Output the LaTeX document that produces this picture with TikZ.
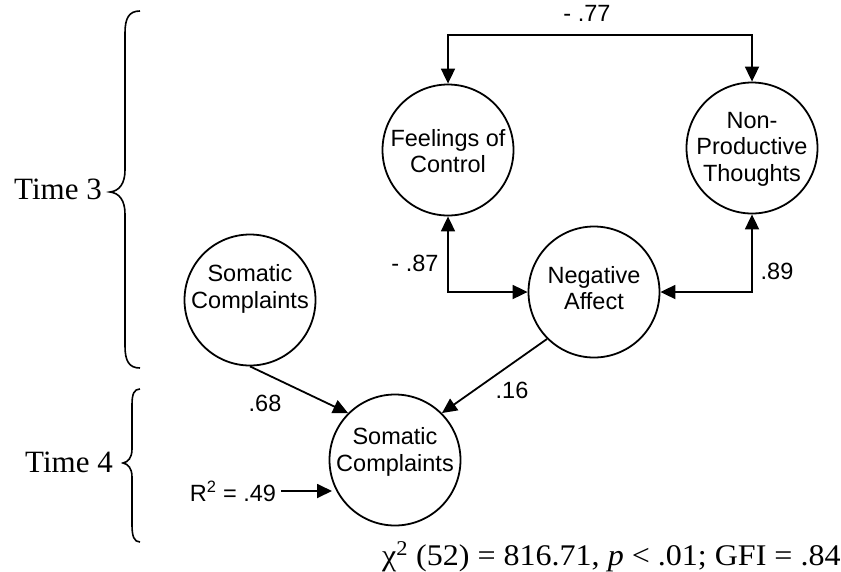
\documentclass[tikz,border=0pt]{standalone}
\usepackage{fontspec}
\usepackage{graphicx}
\setmainfont{Liberation Serif}
\newfontfamily\arialf{Liberation Sans}
\usetikzlibrary{arrows.meta}
\begin{document}
\begin{tikzpicture}[x=1pt,y=-1pt,
  lv/.style={circle,draw,line width=1.8pt,minimum size=131pt,inner sep=0pt},
  lvtext/.style={font=\arialf\fontsize{23.5}{26.5}\selectfont,align=center,inner sep=0pt},
  coef/.style={font=\arialf\fontsize{23.5}{26}\selectfont,inner sep=0pt},
  onepath/.style={line width=1.8pt,-{Triangle[length=15pt,width=14pt]}},
  twopath/.style={line width=1.8pt,{Triangle[length=15pt,width=14pt]}-{Triangle[length=15pt,width=14pt]}},
  bracepath/.style={line width=1.6pt},
  timelab/.style={font=\fontsize{31}{31}\selectfont,inner sep=0pt}]
\useasboundingbox (0,0) rectangle (841,571);

% latent variables
\node[lv] (fc) at (448,150) {};
\node[lvtext] (fct) at (448,151) {Feelings of\\Control};
\node[lv] (npt) at (752,148) {};
\node[lvtext] (nptt) at (752,149) {Non-\\Productive\\Thoughts};
\node[lv] (na) at (594,292) {};
\node[lvtext] (nat) at (594,288) {Negative\\Affect};
\node[lv] (sc3) at (250,300) {};
\node[lvtext] (sc3t) at (250,289) {Somatic\\Complaints};
\node[lv] (sc4) at (395,460) {};
\node[lvtext] (sc4t) at (395,452) {Somatic\\Complaints};

% connectors
\coordinate (topline) at (600,35);
\draw[twopath] (fc.north) |- (topline) -| (npt.north);
\draw[twopath] (fc.south) |- (na.west);
\draw[twopath] (npt.south) |- (na.east);
\draw[onepath] (sc3.south) -- (sc4.135);
\draw[onepath] (na.225) -- (sc4.45);

% coefficients
\node[coef] (l77) at (587,13) {- .77};
\node[coef] (l87) at (415,263) {- .87};
\node[coef] (l89) at (777,271) {.89};
\node[coef] (l68) at (265,403) {.68};
\node[coef] (l16) at (512,390) {.16};

% R squared
\node[coef] (r2) at (233,491) {R\textsuperscript{2} = .49};
\coordinate (r2end) at (332,491);
\draw[onepath] ([xshift=5pt]r2.east) -- (r2end);

% time labels and braces
\node[timelab,anchor=east] (t3) at (102,189) {Time 3};
\node[timelab,anchor=east] (t4) at (113,462) {Time 4};
\draw[bracepath] (140,11) .. controls (129,11) and (125,18) .. (125,33) -- (125,170)
  .. controls (125,184) and (119,191) .. (110,192)
  .. controls (119,193) and (125,200) .. (125,214) -- (125,346)
  .. controls (125,361) and (129,368) .. (140,368);
\draw[bracepath] (140,389) .. controls (134,389) and (132,394) .. (132,405) -- (132,449)
  .. controls (132,458) and (128,462) .. (123,463)
  .. controls (128,464) and (132,468) .. (132,477) -- (132,525)
  .. controls (132,536) and (134,542) .. (140,542);

% fit statistics
\node[font=\fontsize{30}{30}\selectfont,anchor=base west,inner sep=0pt] (fitstat) at (382,565)
  {\scalebox{1.068}[1]{χ\textsuperscript{2} (52) = 816.71, \textit{p} < .01; GFI = .84}};
\end{tikzpicture}
\end{document}
